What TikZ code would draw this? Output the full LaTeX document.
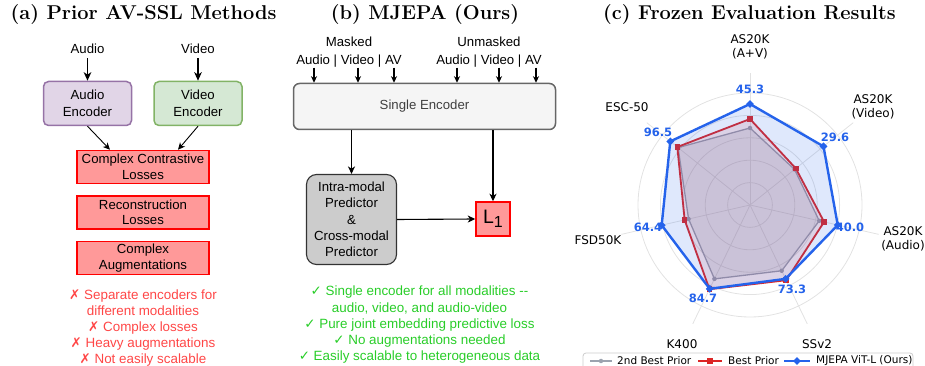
\documentclass[tikz,border=0pt]{standalone}
\usepackage{fontspec}
\usepackage{tikz}
\usetikzlibrary{positioning,calc}
\usetikzlibrary{arrows.meta,shapes.geometric}
\newfontfamily\drawiofont{Liberation Sans}
\newfontfamily\plotfont{DejaVu Sans}
\definecolor{EncPurple}{HTML}{E1D5E7}
\definecolor{EncPurpleLine}{HTML}{9673A6}
\definecolor{EncGreen}{HTML}{D5E8D4}
\definecolor{EncGreenLine}{HTML}{82B366}
\definecolor{LossRed}{HTML}{FF9999}
\definecolor{LossRedLine}{HTML}{FF0000}
\definecolor{SingleGray}{HTML}{F5F5F5}
\definecolor{SingleLine}{HTML}{666666}
\definecolor{PredGray}{HTML}{CCCCCC}
\definecolor{PredLine}{HTML}{333333}
\definecolor{ConRed}{RGB}{255,70,70}
\definecolor{ProGreen}{RGB}{40,205,40}
\definecolor{OursBlue}{RGB}{37,99,235}
\definecolor{BestRed}{RGB}{220,38,38}
\definecolor{SecondGray}{RGB}{156,163,175}
\definecolor{GridGray}{RGB}{226,226,226}
\newcommand{\xmark}{{\plotfont ✗}}
\newcommand{\cmark}{{\plotfont ✓}}
\tikzset{
  title/.style={font=\fontsize{20}{24}\selectfont\bfseries,inner sep=0pt},
  txt/.style={font=\drawiofont\fontsize{13.2}{16.5}\selectfont,align=center,inner sep=1pt},
  box/.style={txt,line width=1.5pt,rounded corners=5pt},
  audiobox/.style={box,draw=EncPurpleLine,fill=EncPurple,minimum width=88pt,minimum height=44pt},
  videobox/.style={box,draw=EncGreenLine,fill=EncGreen,minimum width=88pt,minimum height=44pt},
  lossbox/.style={box,rounded corners=0pt,draw=LossRedLine,fill=LossRed,minimum width=132pt,minimum height=33pt,font=\drawiofont\fontsize{13.2}{15.5}\selectfont},
  singlebox/.style={box,rounded corners=6pt,draw=SingleLine,fill=SingleGray,text=black!75,minimum width=262pt,minimum height=46pt},
  predbox/.style={box,rounded corners=10pt,draw=PredLine,fill=PredGray,line width=1.1pt,minimum width=90pt,minimum height=90pt},
  l1box/.style={box,rounded corners=0pt,draw=LossRedLine,fill=LossRed,minimum width=34pt,minimum height=34pt,font=\drawiofont\fontsize{19.5}{20}\selectfont},
}
\tikzset{
  bigarr/.style={-{Stealth[length=8.5pt,width=7.5pt,inset=2.4pt]},line width=1.7pt},
  thinarr/.style={-{Stealth[length=7pt,width=6.5pt,inset=2pt]},line width=0.9pt},
  inarr/.style={-{Stealth[length=6.5pt,width=6pt,inset=2pt]},line width=1.2pt},
  midarr/.style={-{Stealth[length=7.5pt,width=7pt,inset=2.2pt]},line width=1.1pt},
  grid/.style={draw=GridGray,line width=0.8pt},
  second/.style={draw=SecondGray,line width=1.3pt,line join=round,fill=SecondGray,fill opacity=0.22},
  best/.style={draw=BestRed,line width=1.8pt,line join=round,fill=BestRed,fill opacity=0.12},
  ours/.style={draw=OursBlue,line width=2.4pt,line join=round,fill=OursBlue,fill opacity=0.15},
  secondmark/.style={circle,fill=SecondGray,inner sep=0pt,minimum size=4.5pt},
  bestmark/.style={rectangle,fill=BestRed,inner sep=0pt,minimum size=5.5pt},
  oursmark/.style={diamond,fill=OursBlue,inner sep=0pt,minimum size=8pt},
  val/.style={font=\plotfont\bfseries\fontsize{11.5}{13}\selectfont,text=OursBlue,inner sep=0pt},
  axlab/.style={font=\plotfont\fontsize{12}{14}\selectfont,align=center,inner sep=0pt},
  legtxt/.style={font=\plotfont\fontsize{10.5}{12}\selectfont,inner sep=0pt,anchor=west},
}
\begin{document}
\begin{tikzpicture}[x=1pt,y=1pt]
\useasboundingbox (0,0) rectangle (925,366);
% (a) prior methods
\node[title] (ttla) at (143.5,351) {(a) Prior AV-SSL Methods};
\node[txt] (audin) at (87.5,317) {Audio};
\node[txt] (vidin) at (198,317) {Video};
\node[audiobox] (audenc) at (87.5,262.5) {Audio\\Encoder};
\node[videobox] (videnc) at (198,262.5) {Video\\Encoder};
\node[lossbox] (contr) at (143,199) {Complex Contrastive\\Losses};
\node[lossbox,below=11pt of contr] (recon) {Reconstruction\\Losses};
\node[lossbox,below=11pt of recon] (augm) {Complex\\Augmentations};
\draw[bigarr,shorten <=3pt] (audin) -- (audenc);
\draw[bigarr,shorten <=3pt] (vidin) -- (videnc);
\draw[thinarr] (audenc.south) -- ([xshift=-33pt]contr.north);
\draw[thinarr] (videnc.south) -- ([xshift=35pt]contr.north);
\node[txt,text=ConRed,font=\drawiofont\fontsize{13.4}{15.8}\selectfont] (cons) at (143,38) {\xmark{} Separate encoders for\\different modalities\\\xmark{} Complex losses\\\xmark{} Heavy augmentations\\\xmark{} Not easily scalable};
% (b) mjepa
\node[title] (ttlb) at (425,351) {(b) MJEPA (Ours)};
\node[txt,font=\drawiofont\fontsize{13.2}{17.5}\selectfont] (mskd) at (349,314) {Masked\\Audio | Video | AV};
\node[txt,font=\drawiofont\fontsize{13.2}{17.5}\selectfont] (umskd) at (489,314) {Unmasked\\Audio | Video | AV};
\node[singlebox] (enc) at (424.5,259.5) {Single Encoder};
\draw[inarr] ([shift={(-110.5,15)}]enc.north) -- ([xshift=-110.5pt]enc.north);
\draw[inarr] ([shift={(-66.5,15)}]enc.north) -- ([xshift=-66.5pt]enc.north);
\draw[inarr] ([shift={(-30.5,15)}]enc.north) -- ([xshift=-30.5pt]enc.north);
\draw[inarr] ([shift={(32.5,15)}]enc.north) -- ([xshift=32.5pt]enc.north);
\draw[inarr] ([shift={(74.5,15)}]enc.north) -- ([xshift=74.5pt]enc.north);
\draw[inarr] ([shift={(111.5,15)}]enc.north) -- ([xshift=111.5pt]enc.north);
\node[predbox,font=\drawiofont\fontsize{13.2}{16.3}\selectfont] (pred) at (351.5,146.5) {Intra-modal\\Predictor\\\&\\Cross-modal\\Predictor};
\node[l1box] (lone) at (493,147) {L\raisebox{-4pt}{\fontsize{16}{16}\selectfont 1}};
\draw[midarr] (enc.south -| pred.north) -- (pred.north);
\draw[midarr] (enc.south -| lone.north) -- (lone.north);
\draw[midarr] (pred.east) -- (lone.west);
\node[txt,text=ProGreen,font=\drawiofont\fontsize{13.4}{16.25}\selectfont] (pros) at (419.5,41) {\cmark{} Single encoder for all modalities --\\audio, video, and audio-video\\\cmark{} Pure joint embedding predictive loss\\\cmark{} No augmentations needed\\\cmark{} Easily scalable to heterogeneous data};
% (c) radar chart
\node[title] (ttlc) at (749.5,351) {(c) Frozen Evaluation Results};
\begin{scope}[shift={(750,161)}]
\coordinate (rc) at (0,0);
\draw[grid] (rc) circle[radius=22.4];
\draw[grid] (rc) circle[radius=44.8];
\draw[grid] (rc) circle[radius=67.2];
\draw[grid] (rc) circle[radius=89.6];
\draw[grid] (rc) circle[radius=112];
\draw[grid] (rc) -- (90:132);
\draw[grid] (rc) -- (38.57:132);
\draw[grid] (rc) -- (-12.86:132);
\draw[grid] (rc) -- (-64.29:132);
\draw[grid] (rc) -- (-115.71:132);
\draw[grid] (rc) -- (-167.14:132);
\draw[grid] (rc) -- (141.43:132);
% 2nd best prior
\coordinate (s0) at (90:77);
\coordinate (s1) at (38.57:57);
\coordinate (s2) at (-12.86:71);
\coordinate (s3) at (-64.29:73);
\coordinate (s4) at (-115.71:82);
\coordinate (s5) at (-167.14:63);
\coordinate (s6) at (141.43:92);
% best prior
\coordinate (p0) at (90:86);
\coordinate (p1) at (38.57:58.6);
\coordinate (p2) at (-12.86:76);
\coordinate (p3) at (-64.29:83.5);
\coordinate (p4) at (-115.71:93.5);
\coordinate (p5) at (-167.14:67);
\coordinate (p6) at (141.43:93);
% ours
\coordinate (m0) at (90:101);
\coordinate (m1) at (38.57:94);
\coordinate (m2) at (-12.86:90);
\coordinate (m3) at (-64.29:82);
\coordinate (m4) at (-115.71:93);
\coordinate (m5) at (-167.14:90.6);
\coordinate (m6) at (141.43:102);
\draw[second] (s0)--(s1)--(s2)--(s3)--(s4)--(s5)--(s6)--cycle;
\node[secondmark] at (s0) {};
\node[secondmark] at (s1) {};
\node[secondmark] at (s2) {};
\node[secondmark] at (s3) {};
\node[secondmark] at (s4) {};
\node[secondmark] at (s5) {};
\node[secondmark] at (s6) {};
\draw[best] (p0)--(p1)--(p2)--(p3)--(p4)--(p5)--(p6)--cycle;
\node[bestmark] at (p0) {};
\node[bestmark] at (p1) {};
\node[bestmark] at (p2) {};
\node[bestmark] at (p3) {};
\node[bestmark] at (p4) {};
\node[bestmark] at (p5) {};
\node[bestmark] at (p6) {};
\draw[ours] (m0)--(m1)--(m2)--(m3)--(m4)--(m5)--(m6)--cycle;
\node[oursmark] at (m0) {};
\node[oursmark] at (m1) {};
\node[oursmark] at (m2) {};
\node[oursmark] at (m3) {};
\node[oursmark] at (m4) {};
\node[oursmark] at (m5) {};
\node[oursmark] at (m6) {};
\end{scope}
\node[val] (v0) at (750,277) {45.3};
\node[val] (v1) at (835,229) {29.6};
\node[val] (v2) at (850,139) {40.0};
\node[val] (v3) at (792,77) {73.3};
\node[val] (v4) at (703,68) {84.7};
\node[val] (v5) at (648,139) {64.4};
\node[val] (v6) at (658,234) {96.5};
\node[axlab] (ax0) at (750,319) {AS20K\\(A+V)};
\node[axlab] (ax1) at (873,259.5) {AS20K\\(Video)};
\node[axlab] (ax2) at (903,127) {AS20K\\(Audio)};
\node[axlab] (ax3) at (817,22) {SSv2};
\node[axlab] (ax4) at (682,22) {K400};
\node[axlab] (ax5) at (598,126) {FSD50K};
\node[axlab] (ax6) at (627,259) {ESC-50};
% legend
\draw[draw=black!20,fill=white,line width=0.8pt,rounded corners=3pt] (583,-6) rectangle (913,13);
\node[secondmark] (lg0) at (601,5) {};
\draw[draw=SecondGray,line width=1.3pt] ([xshift=-11pt]lg0.center) -- ([xshift=11pt]lg0.center);
\node[legtxt] (lt0) at (617,5) {2nd Best Prior};
\node[bestmark] (lg1) at (710,5) {};
\draw[draw=BestRed,line width=1.8pt] ([xshift=-12pt]lg1.center) -- ([xshift=12pt]lg1.center);
\node[legtxt] (lt1) at (728,5) {Best Prior};
\node[oursmark] (lg2) at (797,5) {};
\draw[draw=OursBlue,line width=2.4pt] ([xshift=-13pt]lg2.center) -- ([xshift=13pt]lg2.center);
\node[legtxt] (lt2) at (816,5) {MJEPA ViT-L (Ours)};
\end{tikzpicture}
\end{document}
